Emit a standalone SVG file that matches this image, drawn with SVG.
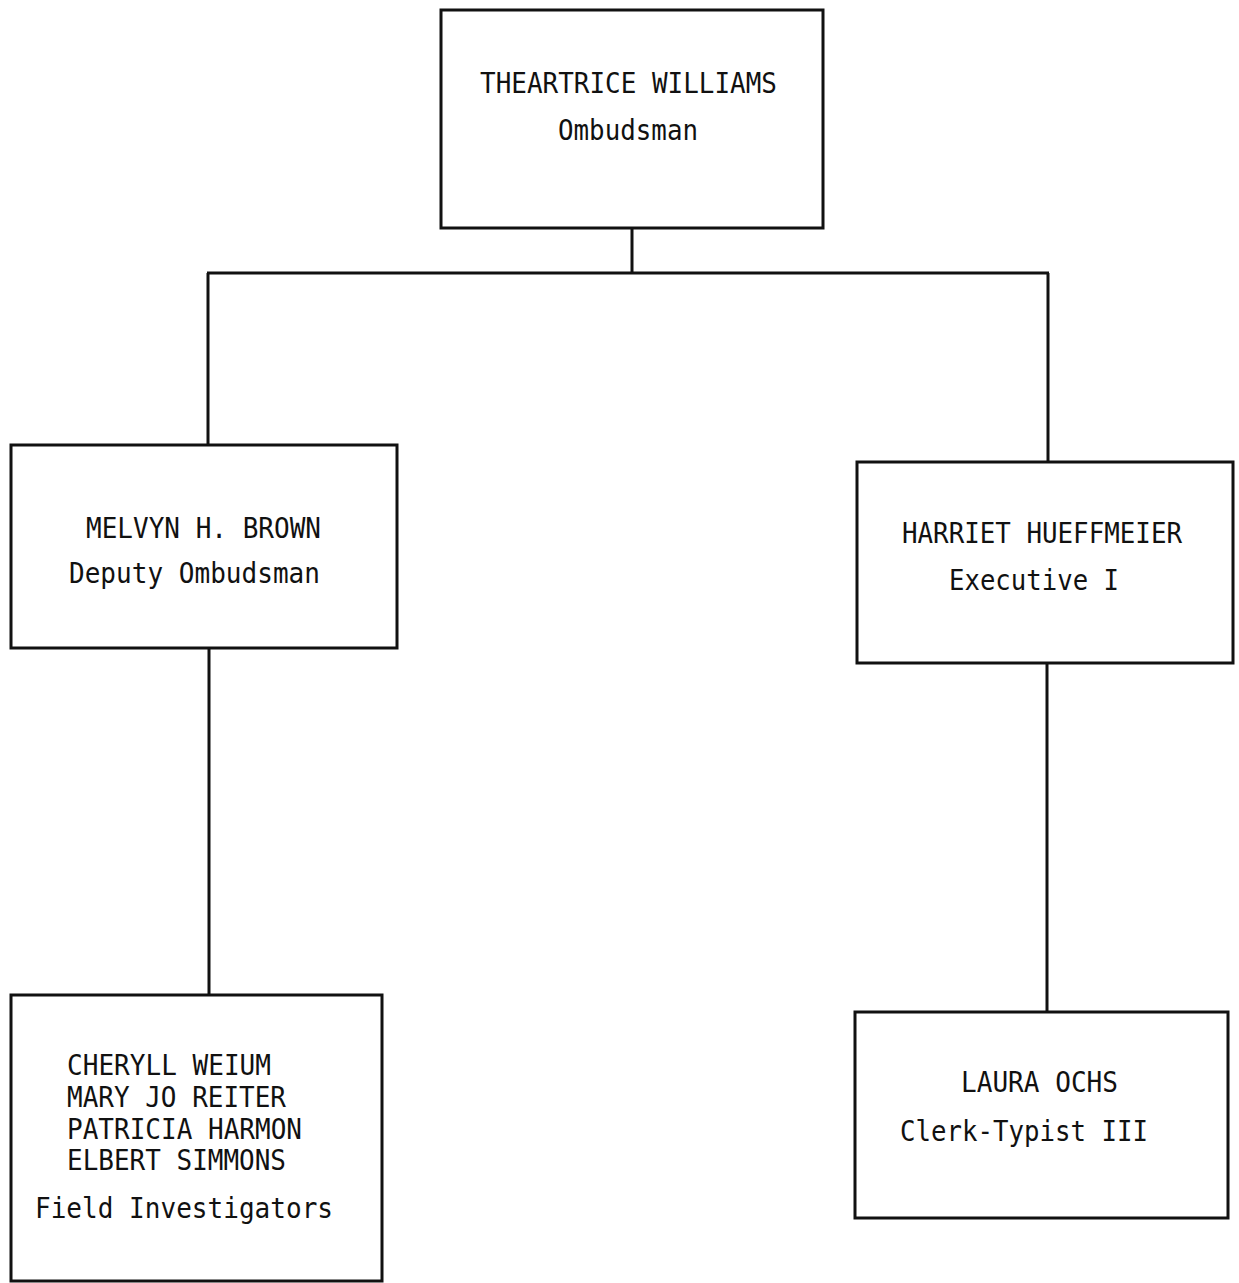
<svg xmlns="http://www.w3.org/2000/svg" width="1239" height="1283" viewBox="0 0 1239 1283">
<style>
.box{fill:none;stroke:#111;stroke-width:3}
.con{fill:none;stroke:#111;stroke-width:3}
text{font-family:"DejaVu Sans Mono","Liberation Mono",monospace;font-size:28.5px;fill:#111}
</style>
<rect width="1239" height="1283" fill="#fff"/>
<g id="connectors">
<line class="con" x1="632" y1="228" x2="632" y2="273"/>
<line class="con" x1="207" y1="273" x2="1049" y2="273"/>
<line class="con" x1="208" y1="273" x2="208" y2="445"/>
<line class="con" x1="1048" y1="273" x2="1048" y2="462"/>
<line class="con" x1="209" y1="648" x2="209" y2="995"/>
<line class="con" x1="1047" y1="663" x2="1047" y2="1012"/>
</g>
<g id="node-williams">
<rect class="box" x="441" y="10" width="382" height="218"/>
<text x="480" y="93" textLength="297" lengthAdjust="spacingAndGlyphs">THEARTRICE WILLIAMS</text>
<text x="558" y="140" textLength="140" lengthAdjust="spacingAndGlyphs">Ombudsman</text>
</g>
<g id="node-brown">
<rect class="box" x="11" y="445" width="386" height="203"/>
<text x="86" y="538" textLength="235" lengthAdjust="spacingAndGlyphs">MELVYN H. BROWN</text>
<text x="69" y="583" textLength="251" lengthAdjust="spacingAndGlyphs">Deputy Ombudsman</text>
</g>
<g id="node-hueffmeier">
<rect class="box" x="857" y="462" width="376" height="201"/>
<text x="902" y="543" textLength="280" lengthAdjust="spacingAndGlyphs">HARRIET HUEFFMEIER</text>
<text x="949" y="590" textLength="170" lengthAdjust="spacingAndGlyphs">Executive I</text>
</g>
<g id="node-investigators">
<rect class="box" x="11" y="995" width="371" height="286"/>
<text x="67" y="1075" textLength="204" lengthAdjust="spacingAndGlyphs">CHERYLL WEIUM</text>
<text x="67" y="1107" textLength="219" lengthAdjust="spacingAndGlyphs">MARY JO REITER</text>
<text x="67" y="1139" textLength="235" lengthAdjust="spacingAndGlyphs">PATRICIA HARMON</text>
<text x="67" y="1170" textLength="219" lengthAdjust="spacingAndGlyphs">ELBERT SIMMONS</text>
<text x="35" y="1218" textLength="298" lengthAdjust="spacingAndGlyphs">Field Investigators</text>
</g>
<g id="node-ochs">
<rect class="box" x="855" y="1012" width="373" height="206"/>
<text x="961" y="1092" textLength="157" lengthAdjust="spacingAndGlyphs">LAURA OCHS</text>
<text x="900" y="1141" textLength="248" lengthAdjust="spacingAndGlyphs">Clerk-Typist III</text>
</g>
</svg>
